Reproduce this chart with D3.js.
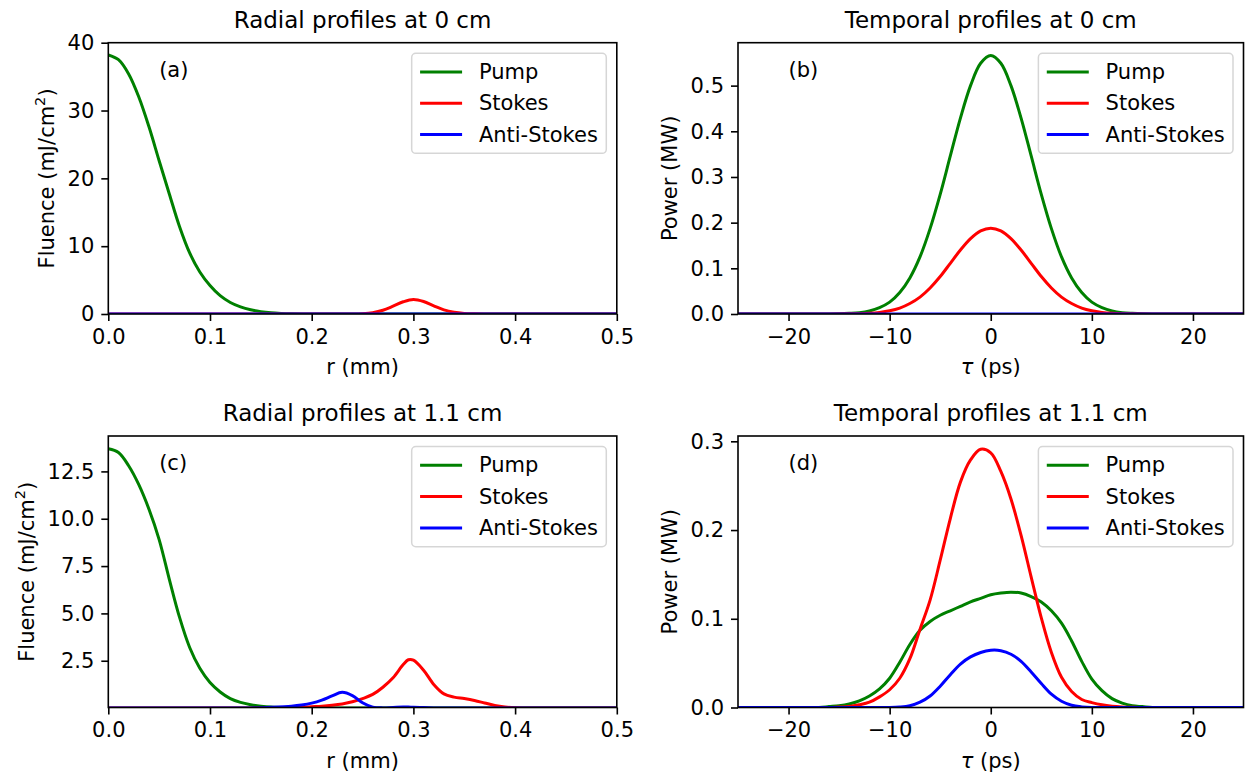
<!DOCTYPE html>
<html lang="en">
<head>
<meta charset="UTF-8">
<title>Radial and temporal profiles</title>
<script src="https://cdn.jsdelivr.net/npm/d3@7"></script>
<style>
  body { margin: 0; background: #fff; }
  svg { display: block; font-family: "DejaVu Sans", sans-serif; }
</style>
</head>
<body>
<div id="chart"></div>
<script>
// ---- data ----
var SERIES = ['Pump', 'Stokes', 'Anti-Stokes'];
var COLORS = ['#008000', '#ff0000', '#0000ff'];

// (a) radial profiles at 0 cm, r in mm, fluence in mJ/cm^2
var rA = [0, 0.01, 0.02, 0.03, 0.04, 0.05, 0.06, 0.07, 0.08, 0.09, 0.10, 0.11, 0.12, 0.13, 0.14, 0.15, 0.16, 0.17, 0.18, 0.20,
          0.22, 0.24, 0.25, 0.26, 0.27, 0.28, 0.29, 0.30, 0.31, 0.32, 0.33, 0.34, 0.35, 0.36, 0.37, 0.40, 0.45, 0.50];
var pumpA = [38.2, 37.5, 35.4, 32.0, 27.6, 22.6, 17.7, 12.9, 9.0, 6.2, 4.2, 2.7, 1.7, 1.05, 0.62, 0.35, 0.18, 0.09, 0.04, 0.01,
             0, 0, 0, 0, 0, 0, 0, 0, 0, 0, 0, 0, 0, 0, 0, 0, 0, 0];
var stokesA = [0, 0, 0, 0, 0, 0, 0, 0, 0, 0, 0, 0, 0, 0, 0, 0, 0, 0, 0, 0,
               0, 0, 0.05, 0.2, 0.55, 1.15, 1.8, 2.15, 1.85, 1.2, 0.6, 0.25, 0.08, 0.02, 0, 0, 0, 0];
var antiA = [0, 0, 0, 0, 0, 0, 0, 0, 0, 0, 0, 0, 0, 0, 0, 0, 0, 0, 0, 0,
             0, 0, 0, 0, 0, 0, 0, 0, 0, 0, 0, 0, 0, 0, 0, 0, 0, 0];

// (b) temporal profiles at 0 cm, tau in ps, power in MW
var tB = [-25, -20, -16, -14, -13, -12, -11, -10, -9, -8, -7, -6, -5, -4, -3, -2, -1, 0,
          1, 2, 3, 4, 5, 6, 7, 8, 9, 10, 11, 12, 13, 14, 16, 20, 25];
var pumpB = [0, 0, 0, 0.0015, 0.003, 0.0067, 0.014, 0.026, 0.047, 0.079, 0.125, 0.187, 0.262, 0.346, 0.429, 0.500, 0.549, 0.566,
             0.549, 0.500, 0.429, 0.346, 0.262, 0.187, 0.125, 0.079, 0.047, 0.026, 0.014, 0.0067, 0.003, 0.0015, 0, 0, 0];
var stokesB = [0, 0, 0, 0.0003, 0.0007, 0.0016, 0.0035, 0.007, 0.013, 0.023, 0.037, 0.057, 0.082, 0.111, 0.140, 0.165, 0.182, 0.188,
               0.182, 0.165, 0.140, 0.111, 0.082, 0.057, 0.037, 0.023, 0.013, 0.007, 0.0035, 0.0016, 0.0007, 0.0003, 0, 0, 0];
var antiB = [0, 0, 0, 0, 0, 0, 0, 0, 0, 0, 0, 0, 0, 0, 0, 0, 0, 0,
             0, 0, 0, 0, 0, 0, 0, 0, 0, 0, 0, 0, 0, 0, 0, 0, 0];

// (c) radial profiles at 1.1 cm
var rC = [0, 0.01, 0.02, 0.03, 0.04, 0.05, 0.06, 0.07, 0.08, 0.09, 0.10, 0.11, 0.12, 0.13, 0.14, 0.15, 0.16,
          0.18, 0.19, 0.20, 0.21, 0.22, 0.23, 0.24, 0.25, 0.26, 0.27, 0.28, 0.29, 0.295,
          0.30, 0.31, 0.32, 0.33, 0.34, 0.35, 0.36, 0.37, 0.38, 0.39, 0.40, 0.42, 0.45, 0.50];
var pumpC = [13.7, 13.5, 12.8, 11.8, 10.5, 8.9, 6.8, 4.8, 3.2, 2.1, 1.35, 0.85, 0.5, 0.3, 0.18, 0.1, 0.05,
             0.02, 0.015, 0.01, 0.005, 0, 0, 0, 0, 0, 0, 0, 0, 0,
             0, 0, 0, 0, 0, 0, 0, 0, 0, 0, 0, 0, 0, 0];
var stokesC = [0, 0, 0, 0, 0, 0, 0, 0, 0, 0, 0, 0, 0, 0, 0, 0, 0,
               0.02, 0.04, 0.07, 0.1, 0.15, 0.22, 0.33, 0.5, 0.72, 1.1, 1.6, 2.3, 2.55,
               2.53, 2.0, 1.25, 0.75, 0.58, 0.5, 0.4, 0.27, 0.14, 0.06, 0.02, 0, 0, 0];
var antiC = [0, 0, 0, 0, 0, 0, 0, 0, 0, 0, 0, 0, 0, 0, 0.005, 0.02, 0.04,
             0.1, 0.16, 0.26, 0.42, 0.64, 0.83, 0.66, 0.28, 0.05, 0.01, 0.03, 0.05, 0.05,
             0.04, 0.03, 0.01, 0, 0, 0, 0, 0, 0, 0, 0, 0, 0, 0];

// (d) temporal profiles at 1.1 cm
var tD = [-25, -20, -17, -16, -15, -14, -13, -12, -11, -10, -9, -8, -7, -6, -5, -4, -3, -2, -1, 0,
          1, 2, 3, 4, 5, 6, 7, 8, 9, 10, 11, 12, 13, 14, 15, 16, 17, 20, 25];
var pumpD = [0, 0, 0, 0.001, 0.002, 0.004, 0.0075, 0.013, 0.021, 0.033, 0.051, 0.071, 0.087, 0.097, 0.104, 0.109, 0.114, 0.119, 0.123, 0.127,
             0.129, 0.130, 0.129, 0.125, 0.119, 0.109, 0.095, 0.075, 0.052, 0.032, 0.019, 0.010, 0.005, 0.002, 0.001, 0, 0, 0, 0];
var stokesD = [0, 0, 0, 0, 0.0005, 0.001, 0.003, 0.006, 0.012, 0.02, 0.033, 0.055, 0.088, 0.121, 0.166, 0.213, 0.254, 0.279, 0.291, 0.287,
               0.266, 0.235, 0.194, 0.147, 0.101, 0.062, 0.034, 0.018, 0.009, 0.0055, 0.003, 0.0015, 0.0007, 0.0003, 0, 0, 0, 0, 0];
var antiD = [0, 0, 0, 0, 0, 0, 0, 0, 0, 0, 0.0005, 0.002, 0.006, 0.013, 0.024, 0.037, 0.049, 0.057, 0.062, 0.0645,
             0.064, 0.060, 0.052, 0.040, 0.027, 0.015, 0.007, 0.0025, 0.0007, 0, 0, 0, 0, 0, 0, 0, 0, 0, 0];

// tick values
var rTicks = [0, 0.1, 0.2, 0.3, 0.4, 0.5];
var tauTicks = [-20, -10, 0, 10, 20];
var fluenceTicksA = [0, 10, 20, 30, 40];
var powerTicksB = [0, 0.1, 0.2, 0.3, 0.4, 0.5];
var fluenceTicksC = [2.5, 5, 7.5, 10, 12.5];
var powerTicksD = [0, 0.1, 0.2, 0.3];

// ---- layout ----
var W = 1245, H = 778;
var FS = 21, TITLE_FS = 23;
var TICK = 7, TICK_PAD = 7;
var COLS = [[108.3, 616.8], [738, 1243.5]];
var ROWS = [[42.7, 314], [436, 707.5]];

var panels = [
    {tag: '(a)', title: 'Radial profiles at 0 cm', col: 0, row: 0, x: rA, ys: [pumpA, stokesA, antiA],
     xDomain: [0, 0.5], yDomain: [0, 40.0], xTicks: rTicks, yTicks: fluenceTicksA,
     xFmt: d3.format('.1f'), yFmt: d3.format('d'), kind: 'radial'},
    {tag: '(b)', title: 'Temporal profiles at 0 cm', col: 1, row: 0, x: tB, ys: [pumpB, stokesB, antiB],
     xDomain: [-25, 25], yDomain: [0, 0.594], xTicks: tauTicks, yTicks: powerTicksB,
     xFmt: d3.format('d'), yFmt: d3.format('.1f'), kind: 'temporal'},
    {tag: '(c)', title: 'Radial profiles at 1.1 cm', col: 0, row: 1, x: rC, ys: [pumpC, stokesC, antiC],
     xDomain: [0, 0.5], yDomain: [0.03, 14.37], xTicks: rTicks, yTicks: fluenceTicksC,
     xFmt: d3.format('.1f'), yFmt: d3.format('.1f'), kind: 'radial'},
    {tag: '(d)', title: 'Temporal profiles at 1.1 cm', col: 1, row: 1, x: tD, ys: [pumpD, stokesD, antiD],
     xDomain: [-25, 25], yDomain: [0, 0.306], xTicks: tauTicks, yTicks: powerTicksD,
     xFmt: d3.format('d'), yFmt: d3.format('.1f'), kind: 'temporal'}
];

var svg = d3.select('#chart').append('svg')
    .attr('width', W)
    .attr('height', H);

svg.append('rect')
    .attr('width', W)
    .attr('height', H)
    .attr('fill', '#fff');

var defs = svg.append('defs');

panels.forEach(function (p, i) {
    var left = COLS[p.col][0], right = COLS[p.col][1];
    var top = ROWS[p.row][0], bottom = ROWS[p.row][1];
    var cx = (left + right) / 2, cy = (top + bottom) / 2;

    var x = d3.scaleLinear().domain(p.xDomain).range([left, right]);
    var y = d3.scaleLinear().domain(p.yDomain).range([bottom, top]);

    var g = svg.append('g');

    defs.append('clipPath')
        .attr('id', 'clip' + i)
        .append('rect')
        .attr('x', left)
        .attr('y', top)
        .attr('width', right - left)
        .attr('height', bottom - top);

    // curves
    var line = d3.line()
        .x(function (d) { return x(d[0]); })
        .y(function (d) { return y(d[1]); })
        .curve(d3.curveCatmullRom.alpha(0.5));

    p.ys.forEach(function (vals, k) {
        g.append('path')
            .datum(p.x.map(function (v, j) { return [v, vals[j]]; }))
            .attr('d', line)
            .attr('fill', 'none')
            .attr('stroke', COLORS[k])
            .attr('stroke-width', 3)
            .attr('stroke-linejoin', 'round')
            .attr('clip-path', 'url(#clip' + i + ')');
    });

    // axes
    var xAxis = g.append('g')
        .attr('transform', 'translate(0,' + bottom + ')')
        .call(d3.axisBottom(x).tickValues(p.xTicks).tickFormat(p.xFmt)
            .tickSize(TICK).tickPadding(TICK_PAD));
    var yAxis = g.append('g')
        .attr('transform', 'translate(' + left + ',0)')
        .call(d3.axisLeft(y).tickValues(p.yTicks).tickFormat(p.yFmt)
            .tickSize(TICK).tickPadding(TICK_PAD));

    [xAxis, yAxis].forEach(function (ax) {
        ax.select('.domain').remove();
        ax.attr('font-size', FS).attr('font-family', '"DejaVu Sans", sans-serif');
        ax.selectAll('.tick line').attr('stroke', '#000').attr('stroke-width', 1.6);
        ax.selectAll('.tick text').attr('fill', '#000');
    });
    xAxis.selectAll('.tick text').attr('dy', '0.76em');

    // spines
    g.append('rect')
        .attr('x', left)
        .attr('y', top)
        .attr('width', right - left)
        .attr('height', bottom - top)
        .attr('fill', 'none')
        .attr('stroke', '#000')
        .attr('stroke-width', 1.6);

    // title
    g.append('text')
        .attr('x', cx)
        .attr('y', top - 15)
        .attr('text-anchor', 'middle')
        .attr('font-size', TITLE_FS)
        .text(p.title);

    // x label
    var xl = g.append('text')
        .attr('x', cx)
        .attr('y', bottom + 60)
        .attr('text-anchor', 'middle')
        .attr('font-size', FS);
    if (p.kind === 'radial') {
        xl.text('r (mm)');
    } else {
        xl.append('tspan').attr('font-style', 'italic').text('\u03c4');
        xl.append('tspan').text(' (ps)');
    }

    // y label, placed left of the tick labels
    var tickLeft = yAxis.node().getBBox().x + left;
    var lx = tickLeft - 13.5;
    var yl = g.append('text')
        .attr('transform', 'translate(' + lx + ',' + cy + ') rotate(-90)')
        .attr('text-anchor', 'middle')
        .attr('font-size', FS);
    if (p.kind === 'radial') {
        yl.append('tspan').text('Fluence (mJ/cm');
        yl.append('tspan').attr('font-size', FS * 0.7).attr('dy', -0.45 * FS).text('2');
        yl.append('tspan').attr('dy', 0.45 * FS).text(')');
    } else {
        yl.text('Power (MW)');
    }

    // panel tag
    g.append('text')
        .attr('x', left + 0.1 * (right - left))
        .attr('y', top + 0.125 * (bottom - top))
        .attr('font-size', FS)
        .text(p.tag);

    // legend
    var pad = 0.4 * FS, handle = 2 * FS, textPad = 0.8 * FS;
    var rowH = 0.99 * FS, spacing = 0.5 * FS;
    var lg = g.append('g');
    var frame = lg.append('rect');
    var texts = [];
    SERIES.forEach(function (name, k) {
        var rc = top + 0.5 * FS + pad + rowH / 2 + k * (rowH + spacing);
        var t = lg.append('text')
            .attr('y', rc + 0.33 * FS)
            .attr('font-size', FS)
            .text(name);
        texts.push(t);
        lg.append('line')
            .attr('class', 'handle')
            .attr('y1', rc)
            .attr('y2', rc)
            .attr('stroke', COLORS[k])
            .attr('stroke-width', 3);
    });
    var maxW = d3.max(texts, function (t) { return t.node().getComputedTextLength(); });
    var boxW = pad + handle + textPad + maxW + pad;
    var boxH = 2 * pad + 3 * rowH + 2 * spacing;
    var x0 = right - 0.5 * FS - boxW;
    var y0 = top + 0.5 * FS;
    frame.attr('x', x0)
        .attr('y', y0)
        .attr('width', boxW)
        .attr('height', boxH)
        .attr('rx', 0.2 * FS)
        .attr('fill', '#fff')
        .attr('fill-opacity', 0.8)
        .attr('stroke', '#ccc')
        .attr('stroke-opacity', 0.8)
        .attr('stroke-width', 1.5);
    lg.selectAll('line.handle')
        .attr('x1', x0 + pad)
        .attr('x2', x0 + pad + handle);
    texts.forEach(function (t) { t.attr('x', x0 + pad + handle + textPad); });
});
</script>
</body>
</html>
